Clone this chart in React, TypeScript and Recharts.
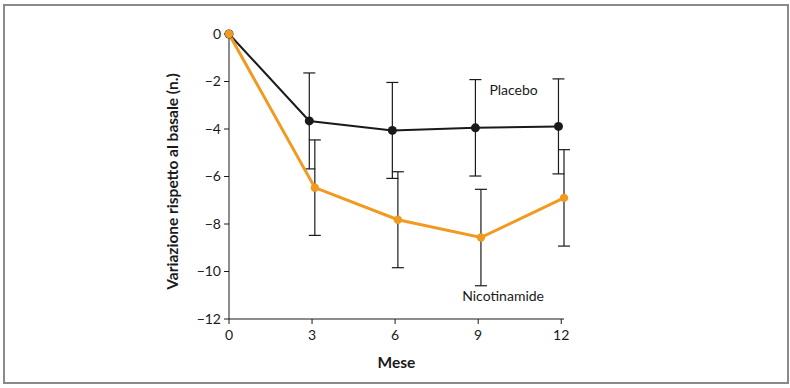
import { ErrorBar, Line, LineChart, ReferenceDot, XAxis, YAxis } from 'recharts'

// months shown on the x axis
const monthTicks = [0, 3, 6, 9, 12]
const valueTicks = [0, -2, -4, -6, -8, -10, -12]

// the two groups are dodged a little around each month
const placeboX = [0, 2.9, 5.9, 8.9, 11.9]
const placeboMean = [0, -3.66, -4.06, -3.95, -3.89]
const placeboErr = [null, 2.02, 2.02, 2.03, 2.0]

const nicotinamideX = [0, 3.1, 6.1, 9.1, 12.1]
const nicotinamideMean = [0, -6.47, -7.82, -8.57, -6.9]
const nicotinamideErr = [null, 2.01, 2.02, 2.03, 2.03]

const placeboData = placeboX.map((x, i) => ({ x, y: placeboMean[i], err: placeboErr[i] }))
const nicotinamideData = nicotinamideX.map((x, i) => ({ x, y: nicotinamideMean[i], err: nicotinamideErr[i] }))

const FONT = 'Lato, "Open Sans", sans-serif'
const ORANGE = '#F29A1F'
const INK = '#1a1a1a'

function formatTick(value: number) {
  return value < 0 ? `\u2212${Math.abs(value)}` : String(value)
}

// rotated y title, nudged a bit below the middle of the plot like the original
function YTitle(props: any) {
  const { viewBox } = props
  const x = viewBox.x + 12
  const y = viewBox.y + viewBox.height / 2 + 5
  return (
    <text
      x={x}
      y={y}
      transform={`rotate(-90, ${x}, ${y})`}
      textAnchor="middle"
      dominantBaseline="central"
      fill={INK}
      fontSize={15.5}
      fontWeight={700}
      fontFamily={FONT}
    >
      Variazione rispetto al basale (n.)
    </text>
  )
}

export default function App() {
  return (
    <div style={{ position: 'absolute', left: 0, top: 0, width: 790, height: 388, background: '#fff', fontFamily: FONT }}>
      <div
        style={{
          position: 'absolute',
          left: 3,
          top: 4,
          width: 782,
          height: 376,
          border: '2px solid #8a8a8a',
        }}
      />
      <LineChart width={790} height={388} margin={{ top: 34, right: 226, bottom: 14, left: 160 }} style={{ position: 'absolute', left: 0, top: 0 }}>
        <XAxis
          type="number"
          dataKey="x"
          domain={[0, 'dataMax']}
          ticks={monthTicks}
          height={55}
          tickSize={5}
          tickMargin={6}
          stroke={INK}
          tick={{ fill: INK, fontSize: 14, fontFamily: FONT }}
          label={{ value: 'Mese', position: 'insideBottom', offset: 6, fill: INK, fontSize: 15.5, fontWeight: 700, fontFamily: FONT }}
        />
        <YAxis
          type="number"
          domain={[-12, 0]}
          ticks={valueTicks}
          width={69}
          tickSize={5}
          tickMargin={3}
          stroke={INK}
          tickFormatter={formatTick}
          tick={{ fill: INK, fontSize: 14, fontFamily: FONT }}
          label={<YTitle />}
        />
        <Line
          data={placeboData}
          dataKey="y"
          stroke={INK}
          strokeWidth={2}
          dot={{ r: 4.5, fill: INK, stroke: INK, strokeWidth: 0 }}
          isAnimationActive={false}
        >
          <ErrorBar dataKey="err" width={6} stroke={INK} strokeWidth={1.2} direction="y" />
        </Line>
        <Line
          data={nicotinamideData}
          dataKey="y"
          stroke={ORANGE}
          strokeWidth={3}
          dot={{ r: 4.2, fill: ORANGE, stroke: ORANGE, strokeWidth: 0 }}
          isAnimationActive={false}
        >
          <ErrorBar dataKey="err" width={6} stroke={INK} strokeWidth={1.2} direction="y" />
        </Line>
        <ReferenceDot
          x={10.28}
          y={-2.35}
          r={0}
          stroke="none"
          label={{ value: 'Placebo', position: 'center', fill: INK, fontSize: 14, fontFamily: FONT }}
        />
        <ReferenceDot
          x={9.9}
          y={-11.05}
          r={0}
          stroke="none"
          label={{ value: 'Nicotinamide', position: 'center', fill: INK, fontSize: 14, fontFamily: FONT }}
        />
      </LineChart>
    </div>
  )
}
